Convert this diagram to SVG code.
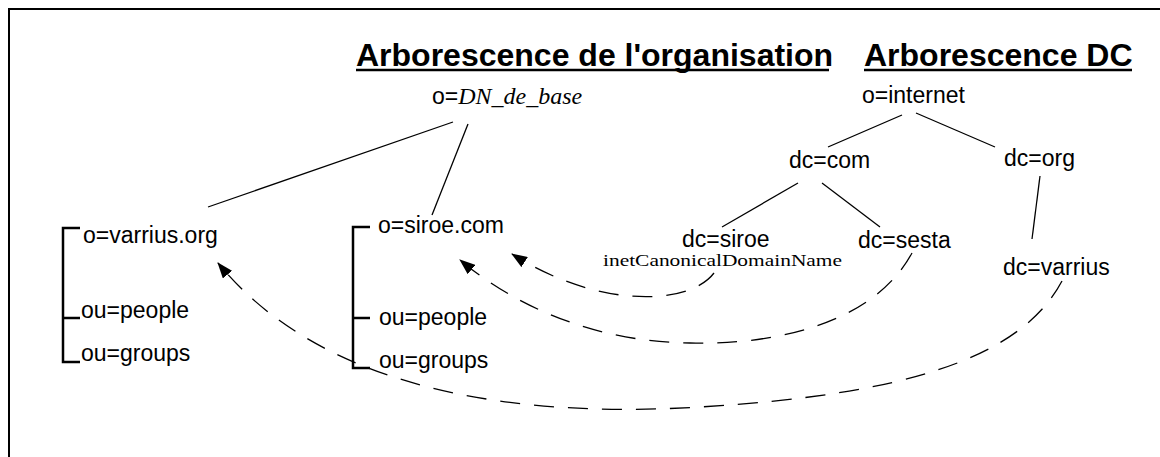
<svg xmlns="http://www.w3.org/2000/svg" width="1160" height="457" viewBox="0 0 1160 457">
<style>
.t{font-family:"Liberation Sans",Arial,sans-serif;font-size:23px;fill:#000}
.h{font-family:"Liberation Sans",Arial,sans-serif;font-size:32px;font-weight:bold;fill:#000}
.s{font-family:"Liberation Serif","Times New Roman",serif}
.e{stroke:#000;stroke-width:1.3;fill:none}
.b{stroke:#000;stroke-width:2.5;fill:none}
.d{stroke:#000;stroke-width:1.3;fill:none;stroke-dasharray:20 14;marker-end:url(#ah)}
</style>
<defs>
<marker id="ah" viewBox="0 0 16 12" refX="15" refY="6" markerWidth="16" markerHeight="12" markerUnits="userSpaceOnUse" orient="auto">
<path d="M0,0 L16,6 L0,12 Z" fill="#000"/>
</marker>
</defs>
<rect x="9" y="9" width="1200" height="500" fill="#fff" stroke="#000" stroke-width="2"/>
<g id="titles">
<text class="h" x="356" y="66">Arborescence de l'organisation</text>
<line x1="356" y1="70" x2="829" y2="70" stroke="#000" stroke-width="2.5"/>
<text class="h" x="864" y="66">Arborescence DC</text>
<line x1="864" y1="70" x2="1132" y2="70" stroke="#000" stroke-width="2.5"/>
</g>
<g id="connectors">
<line class="e" x1="453" y1="122" x2="208" y2="207"/>
<line class="e" x1="468" y1="124" x2="432" y2="215"/>
<line class="e" x1="902" y1="115" x2="828" y2="147"/>
<line class="e" x1="916" y1="113" x2="995" y2="147"/>
<line class="e" x1="798" y1="183" x2="722" y2="227"/>
<line class="e" x1="822" y1="183" x2="880" y2="227"/>
<line class="e" x1="1040" y1="176" x2="1032" y2="239"/>
<path class="d" d="M714,273 C690,305 600,310 512,254"/>
<path class="d" d="M912,253 C870,330 760,345 690,343 C600,342 520,310 460,260"/>
<path class="d" d="M1062,281 C1020,360 900,395 700,407 C540,417 330,400 218,263"/>
</g>
<g id="n-dnbase"><text class="t" x="432" y="104">o=<tspan class="s" font-style="italic" font-size="24">DN_de_base</tspan></text></g>
<g id="n-internet"><text class="t" x="862" y="103">o=internet</text></g>
<g id="n-com"><text class="t" x="789" y="168">dc=com</text></g>
<g id="n-org"><text class="t" x="1004" y="166">dc=org</text></g>
<g id="n-siroe"><text class="t" x="682" y="247">dc=siroe</text>
<text class="s" x="603" y="266" font-size="16" textLength="239" lengthAdjust="spacingAndGlyphs">inetCanonicalDomainName</text></g>
<g id="n-sesta"><text class="t" x="858" y="248">dc=sesta</text></g>
<g id="n-varrius"><text class="t" x="1003" y="275">dc=varrius</text></g>
<g id="n-varriusorg">
<path class="b" d="M80,228 H63 V362 H80 M63,318 H80"/>
<text class="t" x="83" y="243">o=varrius.org</text>
<text class="t" x="81" y="318">ou=people</text>
<text class="t" x="81" y="361">ou=groups</text>
</g>
<g id="n-siroecom">
<path class="b" d="M370,227 H353 V368 H370 M353,318 H370"/>
<text class="t" x="378" y="233">o=siroe.com</text>
<text class="t" x="379" y="325">ou=people</text>
<text class="t" x="379" y="368">ou=groups</text>
</g>
</svg>
